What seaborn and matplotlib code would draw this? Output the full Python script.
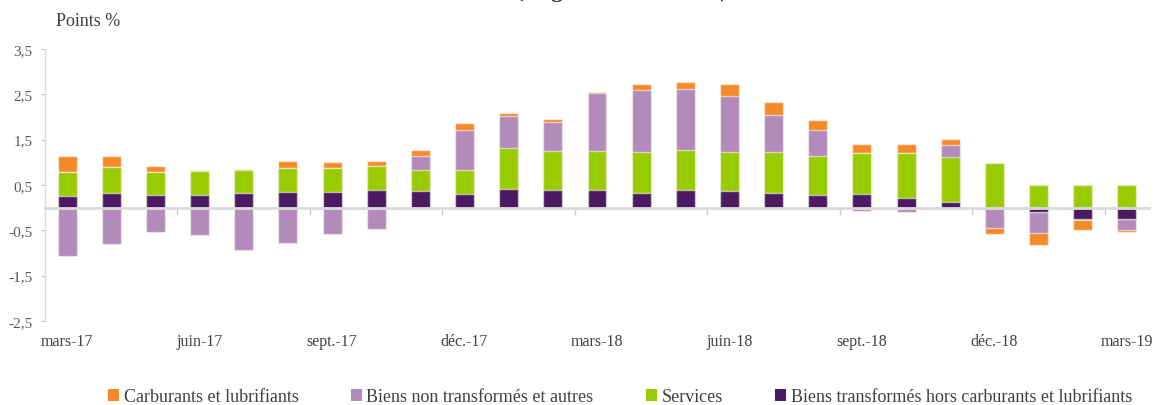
import numpy as np
import pandas as pd
import matplotlib
matplotlib.use("Agg")
import matplotlib.pyplot as plt
import seaborn as sns
from matplotlib.patches import Patch

# Months (year-on-year contributions)
months = ["mars-17", "avr.-17", "mai-17", "juin-17", "juil.-17", "août-17",
          "sept.-17", "oct.-17", "nov.-17", "déc.-17", "janv.-18", "févr.-18",
          "mars-18", "avr.-18", "mai-18", "juin-18", "juil.-18", "août-18",
          "sept.-18", "oct.-18", "nov.-18", "déc.-18", "janv.-19", "févr.-19",
          "mars-19"]

# Contributions in percentage points
transformes = [0.25, 0.33, 0.27, 0.28, 0.33, 0.34, 0.35, 0.40, 0.37, 0.31, 0.41, 0.40,
               0.40, 0.33, 0.40, 0.37, 0.33, 0.29, 0.30, 0.22, 0.13, 0.00, -0.09, -0.26,
               -0.25]
services = [0.53, 0.56, 0.51, 0.52, 0.51, 0.54, 0.53, 0.52, 0.46, 0.51, 0.90, 0.86,
            0.84, 0.89, 0.87, 0.85, 0.90, 0.85, 0.91, 0.99, 0.98, 0.98, 0.51, 0.49,
            0.49]
non_transformes = [-1.07, -0.81, -0.54, -0.60, -0.94, -0.78, -0.58, -0.46, 0.30, 0.90,
                   0.71, 0.62, 1.29, 1.37, 1.34, 1.25, 0.81, 0.57, -0.08, -0.09, 0.28,
                   -0.45, -0.46, -0.02, -0.25]
carburants = [0.37, 0.24, 0.13, 0.03, 0.01, 0.14, 0.13, 0.12, 0.14, 0.15, 0.07, 0.08,
              0.02, 0.13, 0.17, 0.25, 0.30, 0.23, 0.20, 0.20, 0.12, -0.14, -0.28, -0.22,
              -0.04]

names = ["Biens transformés hors carburants et lubrifiants", "Services",
         "Biens non transformés et autres", "Carburants et lubrifiants"]
colors = ["#4B1A63", "#99CC00", "#B28BBB", "#F58A2B"]
yticks = [3.5, 2.5, 1.5, 0.5, -0.5, -1.5, -2.5]

sns.set_style("white")
plt.rcParams["font.family"] = ["Liberation Serif", "DejaVu Serif"]

fig = plt.figure(figsize=(11.58, 4.06), dpi=100)
ax = fig.add_axes([45 / 1158, 1 - 322 / 406, 1104 / 1158, 272 / 406])

# Stack positive and negative parts separately, in series order
vals = np.array([transformes, services, non_transformes, carburants])
cum_pos = np.cumsum(np.clip(vals, 0, None), axis=0)
cum_neg = np.cumsum(np.clip(vals, None, 0), axis=0)

edge = (1, 1, 1, 0.55)
for k in reversed(range(4)):
    for cum in (cum_pos, cum_neg):
        df = pd.DataFrame({"mois": months, "valeur": cum[k]})
        sns.barplot(data=df, x="mois", y="valeur", order=months, color=colors[k],
                    saturation=1, width=0.43, errorbar=None, edgecolor=edge,
                    linewidth=1.0, ax=ax)

ax.set_xlabel("")
ax.set_ylabel("")
ax.set_xlim(-0.5, len(months) - 0.5)
ax.set_ylim(-2.5, 3.5)

# Y axis
ax.set_yticks(yticks)
ax.set_yticklabels([f"{v:.1f}".replace(".", ",") for v in yticks])
ax.tick_params(axis="y", left=True, length=3, width=0.8, color="#BFBFBF",
               labelcolor="#595959", labelsize=11, pad=6)
for s in ["top", "right", "bottom"]:
    ax.spines[s].set_visible(False)
ax.spines["left"].set_color("#D9D9D9")
ax.spines["left"].set_linewidth(1.0)

# Quarterly month labels at the bottom
xt = list(range(0, len(months), 3))
ax.set_xticks(xt)
ax.set_xticklabels([months[i] for i in xt])
ax.tick_params(axis="x", bottom=True, length=0, labelcolor="#404040",
               labelsize=11.5, pad=9)

# Category axis drawn at zero
sec = ax.secondary_xaxis(2.5 / 6)
sec.set_xticks(np.arange(2.5, len(months) - 1, 3))
sec.tick_params(axis="x", direction="out", length=5, width=1, color="#C8C8C8",
                labelbottom=False)
sec.spines["bottom"].set_color("#D9D9D9")
sec.spines["bottom"].set_linewidth(2)
sec.set_zorder(5)

fig.text(56 / 1158, 1 - 22 / 406, "Points %", fontsize=13, color="#404040",
         va="center", ha="left")
# Chart title, sitting at the very top edge of the figure
fig.text(622 / 1158, 1 + 3.5 / 406, "(en glissement annuel)", fontsize=16,
         fontweight="bold", color="#262626", ha="center", va="baseline")

handles = [Patch(facecolor=colors[k], edgecolor="none", label=names[k])
           for k in [3, 2, 1, 0]]
fig.legend(handles=handles, loc="center", bbox_to_anchor=(620 / 1158, 1 - 398 / 406),
           ncol=4, frameon=False, fontsize=13, handlelength=0.62, handleheight=0.62,
           handletextpad=0.25, columnspacing=2.9, labelcolor="#404040")

fig.savefig("out.png", dpi=100)
